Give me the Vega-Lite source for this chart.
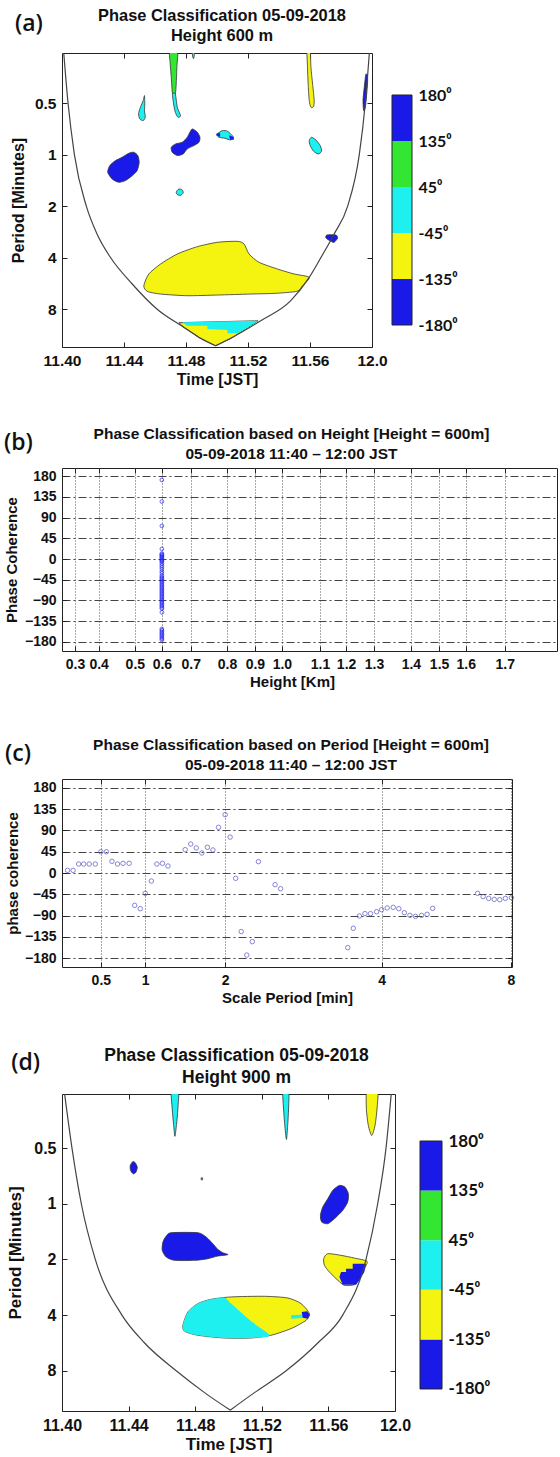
{
"$schema": "https://vega.github.io/schema/vega-lite/v6.json",
"background": "white",
"padding": {"left": 3, "top": 7, "right": 0, "bottom": 0},
"spacing": 38,
"config": {
  "font": "Liberation Sans",
  "view": {"stroke": "#222", "strokeWidth": 1},
  "axis": {"labelFont": "Liberation Sans", "labelFontWeight": "bold", "labelFontSize": 14, "labelColor": "#111", "titleFont": "Liberation Sans", "titleFontWeight": "bold", "titleFontSize": 15, "titleColor": "#111", "domain": false, "tickColor": "#222", "tickSize": -5, "labelPadding": 11, "grid": false, "labelFlush": false, "labelOverlap": false},
  "title": {"font": "Liberation Sans", "fontWeight": "bold", "fontSize": 15, "color": "#111"}
},
"datasets": {
  "blobsA_s": [
    {"id":"G1","k":0,"t":11.4694,"p":0.24,"c":"45 to 135"},{"id":"G1","k":1,"t":11.4746,"p":0.24,"c":"45 to 135"},{"id":"G1","k":2,"t":11.4741,"p":0.309,"c":"45 to 135"},{"id":"G1","k":3,"t":11.4737,"p":0.386,"c":"45 to 135"},{"id":"G1","k":4,"t":11.4731,"p":0.442,"c":"45 to 135"},{"id":"G1","k":5,"t":11.4713,"p":0.442,"c":"45 to 135"},{"id":"G1","k":6,"t":11.4705,"p":0.353,"c":"45 to 135"},{"id":"G1","k":7,"t":11.4698,"p":0.295,"c":"45 to 135"},
    {"id":"C1","k":0,"t":11.4713,"p":0.442,"c":"-45 to 45"},{"id":"C1","k":1,"t":11.4731,"p":0.442,"c":"-45 to 45"},{"id":"C1","k":2,"t":11.4744,"p":0.529,"c":"-45 to 45"},{"id":"C1","k":3,"t":11.4765,"p":0.592,"c":"-45 to 45"},{"id":"C1","k":4,"t":11.4748,"p":0.605,"c":"-45 to 45"},{"id":"C1","k":5,"t":11.4731,"p":0.566,"c":"-45 to 45"},{"id":"C1","k":6,"t":11.472,"p":0.506,"c":"-45 to 45"},
    {"id":"C2","k":0,"t":11.4838,"p":0.24,"c":"-45 to 45"},{"id":"C2","k":1,"t":11.4856,"p":0.24,"c":"-45 to 45"},{"id":"C2","k":2,"t":11.4851,"p":0.272,"c":"-45 to 45"},{"id":"C2","k":3,"t":11.4845,"p":0.272,"c":"-45 to 45"},
    {"id":"C3","k":0,"t":11.4532,"p":0.452,"c":"-45 to 45"},{"id":"C3","k":1,"t":11.4534,"p":0.506,"c":"-45 to 45"},{"id":"C3","k":2,"t":11.4532,"p":0.553,"c":"-45 to 45"},{"id":"C3","k":3,"t":11.4537,"p":0.605,"c":"-45 to 45"},{"id":"C3","k":4,"t":11.4524,"p":0.633,"c":"-45 to 45"},{"id":"C3","k":5,"t":11.4502,"p":0.619,"c":"-45 to 45"},{"id":"C3","k":6,"t":11.4494,"p":0.578,"c":"-45 to 45"},{"id":"C3","k":7,"t":11.4506,"p":0.529,"c":"-45 to 45"},{"id":"C3","k":8,"t":11.4524,"p":0.483,"c":"-45 to 45"},
    {"id":"Y1","k":0,"t":11.558,"p":0.24,"c":"-135 to -45"},{"id":"Y1","k":1,"t":11.5601,"p":0.24,"c":"-135 to -45"},{"id":"Y1","k":2,"t":11.5606,"p":0.309,"c":"-135 to -45"},{"id":"Y1","k":3,"t":11.5619,"p":0.404,"c":"-135 to -45"},{"id":"Y1","k":4,"t":11.5627,"p":0.483,"c":"-135 to -45"},{"id":"Y1","k":5,"t":11.5623,"p":0.524,"c":"-135 to -45"},{"id":"Y1","k":6,"t":11.5606,"p":0.529,"c":"-135 to -45"},{"id":"Y1","k":7,"t":11.5595,"p":0.483,"c":"-135 to -45"},{"id":"Y1","k":8,"t":11.5588,"p":0.386,"c":"-135 to -45"},{"id":"Y1","k":9,"t":11.5584,"p":0.309,"c":"-135 to -45"},
    {"id":"B1","k":0,"t":11.5961,"p":0.338,"c":"135 to 180"},{"id":"B1","k":1,"t":11.5972,"p":0.361,"c":"135 to 180"},{"id":"B1","k":2,"t":11.5966,"p":0.442,"c":"135 to 180"},{"id":"B1","k":3,"t":11.5957,"p":0.529,"c":"135 to 180"},{"id":"B1","k":4,"t":11.5946,"p":0.553,"c":"135 to 180"},{"id":"B1","k":5,"t":11.5942,"p":0.483,"c":"135 to 180"},{"id":"B1","k":6,"t":11.595,"p":0.404,"c":"135 to 180"},
    {"id":"B2","k":0,"t":11.4463,"p":0.969,"c":"135 to 180"},{"id":"B2","k":1,"t":11.4489,"p":1.013,"c":"135 to 180"},{"id":"B2","k":2,"t":11.4498,"p":1.109,"c":"135 to 180"},{"id":"B2","k":3,"t":11.4485,"p":1.24,"c":"135 to 180"},{"id":"B2","k":4,"t":11.4453,"p":1.327,"c":"135 to 180"},{"id":"B2","k":5,"t":11.4409,"p":1.419,"c":"135 to 180"},{"id":"B2","k":6,"t":11.4366,"p":1.451,"c":"135 to 180"},{"id":"B2","k":7,"t":11.4323,"p":1.387,"c":"135 to 180"},{"id":"B2","k":8,"t":11.4295,"p":1.268,"c":"135 to 180"},{"id":"B2","k":9,"t":11.4308,"p":1.16,"c":"135 to 180"},{"id":"B2","k":10,"t":11.4345,"p":1.084,"c":"135 to 180"},{"id":"B2","k":11,"t":11.4388,"p":1.036,"c":"135 to 180"},{"id":"B2","k":12,"t":11.4431,"p":0.982,"c":"135 to 180"},
    {"id":"B3","k":0,"t":11.4841,"p":0.708,"c":"135 to 180"},{"id":"B3","k":1,"t":11.4873,"p":0.74,"c":"135 to 180"},{"id":"B3","k":2,"t":11.489,"p":0.792,"c":"135 to 180"},{"id":"B3","k":3,"t":11.4884,"p":0.847,"c":"135 to 180"},{"id":"B3","k":4,"t":11.4851,"p":0.886,"c":"135 to 180"},{"id":"B3","k":5,"t":11.4808,"p":0.927,"c":"135 to 180"},{"id":"B3","k":6,"t":11.4782,"p":0.991,"c":"135 to 180"},{"id":"B3","k":7,"t":11.4744,"p":1.013,"c":"135 to 180"},{"id":"B3","k":8,"t":11.4711,"p":0.969,"c":"135 to 180"},{"id":"B3","k":9,"t":11.4705,"p":0.906,"c":"135 to 180"},{"id":"B3","k":10,"t":11.4733,"p":0.866,"c":"135 to 180"},{"id":"B3","k":11,"t":11.4776,"p":0.847,"c":"135 to 180"},{"id":"B3","k":12,"t":11.4808,"p":0.792,"c":"135 to 180"},{"id":"B3","k":13,"t":11.4825,"p":0.74,"c":"135 to 180"},
    {"id":"C4","k":0,"t":11.5034,"p":0.724,"c":"-45 to 45"},{"id":"C4","k":1,"t":11.5067,"p":0.73,"c":"-45 to 45"},{"id":"C4","k":2,"t":11.5088,"p":0.757,"c":"-45 to 45"},{"id":"C4","k":3,"t":11.5106,"p":0.792,"c":"-45 to 45"},{"id":"C4","k":4,"t":11.5088,"p":0.821,"c":"-45 to 45"},{"id":"C4","k":5,"t":11.505,"p":0.803,"c":"-45 to 45"},{"id":"C4","k":6,"t":11.5013,"p":0.792,"c":"-45 to 45"},{"id":"C4","k":7,"t":11.4998,"p":0.764,"c":"-45 to 45"},
    {"id":"C5","k":0,"t":11.561,"p":0.792,"c":"-45 to 45"},{"id":"C5","k":1,"t":11.5638,"p":0.821,"c":"-45 to 45"},{"id":"C5","k":2,"t":11.5666,"p":0.886,"c":"-45 to 45"},{"id":"C5","k":3,"t":11.5675,"p":0.956,"c":"-45 to 45"},{"id":"C5","k":4,"t":11.5653,"p":0.991,"c":"-45 to 45"},{"id":"C5","k":5,"t":11.5623,"p":0.956,"c":"-45 to 45"},{"id":"C5","k":6,"t":11.5601,"p":0.886,"c":"-45 to 45"},{"id":"C5","k":7,"t":11.5595,"p":0.828,"c":"-45 to 45"},
    {"id":"C6","k":0,"t":11.4754,"p":1.588,"c":"-45 to 45"},{"id":"C6","k":1,"t":11.4776,"p":1.609,"c":"-45 to 45"},{"id":"C6","k":2,"t":11.4782,"p":1.675,"c":"-45 to 45"},{"id":"C6","k":3,"t":11.4765,"p":1.729,"c":"-45 to 45"},{"id":"C6","k":4,"t":11.4744,"p":1.713,"c":"-45 to 45"},{"id":"C6","k":5,"t":11.4737,"p":1.653,"c":"-45 to 45"},
    {"id":"B4","k":0,"t":11.5709,"p":2.948,"c":"135 to 180"},{"id":"B4","k":1,"t":11.5767,"p":2.948,"c":"135 to 180"},{"id":"B4","k":2,"t":11.5778,"p":3.07,"c":"135 to 180"},{"id":"B4","k":3,"t":11.5756,"p":3.254,"c":"135 to 180"},{"id":"B4","k":4,"t":11.5735,"p":3.211,"c":"135 to 180"},{"id":"B4","k":5,"t":11.5703,"p":3.07,"c":"135 to 180"},
    {"id":"Y2","k":0,"t":11.4528,"p":5.832,"c":"-135 to -45"},{"id":"Y2","k":1,"t":11.456,"p":4.983,"c":"-135 to -45"},{"id":"Y2","k":2,"t":11.4636,"p":4.356,"c":"-135 to -45"},{"id":"Y2","k":3,"t":11.4744,"p":3.808,"c":"-135 to -45"},{"id":"Y2","k":4,"t":11.4873,"p":3.45,"c":"-135 to -45"},{"id":"Y2","k":5,"t":11.5002,"p":3.254,"c":"-135 to -45"},{"id":"Y2","k":6,"t":11.5131,"p":3.211,"c":"-135 to -45"},{"id":"Y2","k":7,"t":11.5175,"p":3.329,"c":"-135 to -45"},{"id":"Y2","k":8,"t":11.5207,"p":3.808,"c":"-135 to -45"},{"id":"Y2","k":9,"t":11.5272,"p":4.26,"c":"-135 to -45"},{"id":"Y2","k":10,"t":11.539,"p":4.66,"c":"-135 to -45"},{"id":"Y2","k":11,"t":11.5498,"p":4.983,"c":"-135 to -45"},{"id":"Y2","k":12,"t":11.5595,"p":5.212,"c":"-135 to -45"},{"id":"Y2","k":13,"t":11.5552,"p":5.832,"c":"-135 to -45"},{"id":"Y2","k":14,"t":11.5515,"p":6.293,"c":"-135 to -45"},{"id":"Y2","k":15,"t":11.5369,"p":6.466,"c":"-135 to -45"},{"id":"Y2","k":16,"t":11.5218,"p":6.524,"c":"-135 to -45"},{"id":"Y2","k":17,"t":11.5002,"p":6.612,"c":"-135 to -45"},{"id":"Y2","k":18,"t":11.4808,"p":6.672,"c":"-135 to -45"},{"id":"Y2","k":19,"t":11.4636,"p":6.524,"c":"-135 to -45"},{"id":"Y2","k":20,"t":11.455,"p":6.293,"c":"-135 to -45"}
  ],
  "blobsA_l": [
    {"id":"Y3","k":0,"t":11.4754,"p":9.59,"c":"-135 to -45"},{"id":"Y3","k":1,"t":11.5265,"p":9.34,"c":"-135 to -45"},{"id":"Y3","k":2,"t":11.5185,"p":10.45,"c":"-135 to -45"},{"id":"Y3","k":3,"t":11.5099,"p":11.69,"c":"-135 to -45"},{"id":"Y3","k":4,"t":11.4991,"p":13.08,"c":"-135 to -45"},{"id":"Y3","k":5,"t":11.4884,"p":11.69,"c":"-135 to -45"},{"id":"Y3","k":6,"t":11.4787,"p":10.22,"c":"-135 to -45"}
  ],
  "blobsA_o": [
    {"id":"C7","k":0,"t":11.4776,"p":9.55,"c":"-45 to 45"},{"id":"C7","k":1,"t":11.5265,"p":9.34,"c":"-45 to 45"},{"id":"C7","k":2,"t":11.5185,"p":10.45,"c":"-45 to 45"},{"id":"C7","k":3,"t":11.5131,"p":11.07,"c":"-45 to 45"},{"id":"C7","k":4,"t":11.5067,"p":11.07,"c":"-45 to 45"},{"id":"C7","k":5,"t":11.5067,"p":10.59,"c":"-45 to 45"},{"id":"C7","k":6,"t":11.4938,"p":10.45,"c":"-45 to 45"},{"id":"C7","k":7,"t":11.4938,"p":9.99,"c":"-45 to 45"},{"id":"C7","k":8,"t":11.4808,"p":9.99,"c":"-45 to 45"},
    {"id":"Q1","k":0,"t":11.5078,"p":0.77,"c":"135 to 180"},{"id":"Q1","k":1,"t":11.5106,"p":0.79,"c":"135 to 180"},{"id":"Q1","k":2,"t":11.511,"p":0.82,"c":"135 to 180"},{"id":"Q1","k":3,"t":11.5085,"p":0.82,"c":"135 to 180"},
    {"id":"Q2","k":0,"t":11.4998,"p":0.75,"c":"135 to 180"},{"id":"Q2","k":1,"t":11.502,"p":0.75,"c":"135 to 180"},{"id":"Q2","k":2,"t":11.502,"p":0.79,"c":"135 to 180"},{"id":"Q2","k":3,"t":11.4998,"p":0.77,"c":"135 to 180"}
  ],
  "coiA": [
    {"side":"L","t":11.4009,"p":0.24},{"side":"L","t":11.4039,"p":0.5},{"side":"L","t":11.408,"p":1},{"side":"L","t":11.4157,"p":2},{"side":"L","t":11.4226,"p":2.908},{"side":"L","t":11.4312,"p":3.98},{"side":"L","t":11.4453,"p":5.7},{"side":"L","t":11.4614,"p":8},{"side":"L","t":11.4787,"p":10.22},{"side":"L","t":11.4884,"p":11.69},{"side":"L","t":11.4991,"p":13.08},
    {"side":"R","t":11.4991,"p":13.08},{"side":"R","t":11.5099,"p":11.69},{"side":"R","t":11.5282,"p":9.34},{"side":"R","t":11.5476,"p":7.13},{"side":"R","t":11.5595,"p":5.21},{"side":"R","t":11.567,"p":4.0},{"side":"R","t":11.5756,"p":2.908},{"side":"R","t":11.5843,"p":2.0},{"side":"R","t":11.5918,"p":1.0},{"side":"R","t":11.5957,"p":0.5},{"side":"R","t":11.5985,"p":0.24}
  ],
  "blobsD_s": [
    {"id":"D1","k":0,"t":11.4656,"p":0.24,"c":"-45 to 45"},{"id":"D1","k":1,"t":11.47,"p":0.24,"c":"-45 to 45"},{"id":"D1","k":2,"t":11.4696,"p":0.307,"c":"-45 to 45"},{"id":"D1","k":3,"t":11.4688,"p":0.372,"c":"-45 to 45"},{"id":"D1","k":4,"t":11.4678,"p":0.432,"c":"-45 to 45"},{"id":"D1","k":5,"t":11.467,"p":0.372,"c":"-45 to 45"},{"id":"D1","k":6,"t":11.4662,"p":0.307,"c":"-45 to 45"},
    {"id":"D2","k":0,"t":11.5326,"p":0.24,"c":"-45 to 45"},{"id":"D2","k":1,"t":11.5362,"p":0.24,"c":"-45 to 45"},{"id":"D2","k":2,"t":11.536,"p":0.32,"c":"-45 to 45"},{"id":"D2","k":3,"t":11.5354,"p":0.394,"c":"-45 to 45"},{"id":"D2","k":4,"t":11.5348,"p":0.449,"c":"-45 to 45"},{"id":"D2","k":5,"t":11.534,"p":0.394,"c":"-45 to 45"},{"id":"D2","k":6,"t":11.5332,"p":0.32,"c":"-45 to 45"},
    {"id":"D3","k":0,"t":11.5832,"p":0.24,"c":"-135 to -45"},{"id":"D3","k":1,"t":11.5896,"p":0.24,"c":"-135 to -45"},{"id":"D3","k":2,"t":11.5892,"p":0.307,"c":"-135 to -45"},{"id":"D3","k":3,"t":11.588,"p":0.378,"c":"-135 to -45"},{"id":"D3","k":4,"t":11.586,"p":0.428,"c":"-135 to -45"},{"id":"D3","k":5,"t":11.584,"p":0.378,"c":"-135 to -45"},{"id":"D3","k":6,"t":11.5828,"p":0.307,"c":"-135 to -45"},
    {"id":"D4","k":0,"t":11.4426,"p":0.591,"c":"135 to 180"},{"id":"D4","k":1,"t":11.444,"p":0.601,"c":"135 to 180"},{"id":"D4","k":2,"t":11.4452,"p":0.634,"c":"135 to 180"},{"id":"D4","k":3,"t":11.4444,"p":0.675,"c":"135 to 180"},{"id":"D4","k":4,"t":11.4428,"p":0.689,"c":"135 to 180"},{"id":"D4","k":5,"t":11.4412,"p":0.661,"c":"135 to 180"},{"id":"D4","k":6,"t":11.441,"p":0.621,"c":"135 to 180"},
    {"id":"D5","k":0,"t":11.4836,"p":0.724,"c":"-45 to 45"},{"id":"D5","k":1,"t":11.4844,"p":0.724,"c":"-45 to 45"},{"id":"D5","k":2,"t":11.4844,"p":0.742,"c":"-45 to 45"},{"id":"D5","k":3,"t":11.4836,"p":0.742,"c":"-45 to 45"},
    {"id":"D6","k":0,"t":11.5666,"p":0.796,"c":"135 to 180"},{"id":"D6","k":1,"t":11.57,"p":0.813,"c":"135 to 180"},{"id":"D6","k":2,"t":11.572,"p":0.883,"c":"135 to 180"},{"id":"D6","k":3,"t":11.5716,"p":0.979,"c":"135 to 180"},{"id":"D6","k":4,"t":11.5686,"p":1.086,"c":"135 to 180"},{"id":"D6","k":5,"t":11.5636,"p":1.205,"c":"135 to 180"},{"id":"D6","k":6,"t":11.5596,"p":1.282,"c":"135 to 180"},{"id":"D6","k":7,"t":11.556,"p":1.256,"c":"135 to 180"},{"id":"D6","k":8,"t":11.5552,"p":1.156,"c":"135 to 180"},{"id":"D6","k":9,"t":11.5566,"p":1.042,"c":"135 to 180"},{"id":"D6","k":10,"t":11.5596,"p":0.94,"c":"135 to 180"},{"id":"D6","k":11,"t":11.5626,"p":0.847,"c":"135 to 180"},
    {"id":"D7","k":0,"t":11.4656,"p":1.434,"c":"135 to 180"},{"id":"D7","k":1,"t":11.4816,"p":1.434,"c":"135 to 180"},{"id":"D7","k":2,"t":11.4866,"p":1.514,"c":"135 to 180"},{"id":"D7","k":3,"t":11.4906,"p":1.645,"c":"135 to 180"},{"id":"D7","k":4,"t":11.4936,"p":1.765,"c":"135 to 180"},{"id":"D7","k":5,"t":11.4966,"p":1.839,"c":"135 to 180"},{"id":"D7","k":6,"t":11.4996,"p":1.885,"c":"135 to 180"},{"id":"D7","k":7,"t":11.4936,"p":1.917,"c":"135 to 180"},{"id":"D7","k":8,"t":11.4876,"p":1.982,"c":"135 to 180"},{"id":"D7","k":9,"t":11.4796,"p":2.023,"c":"135 to 180"},{"id":"D7","k":10,"t":11.4676,"p":2.023,"c":"135 to 180"},{"id":"D7","k":11,"t":11.4626,"p":1.941,"c":"135 to 180"},{"id":"D7","k":12,"t":11.4602,"p":1.786,"c":"135 to 180"},{"id":"D7","k":13,"t":11.4606,"p":1.611,"c":"135 to 180"},{"id":"D7","k":14,"t":11.4626,"p":1.495,"c":"135 to 180"},
    {"id":"D8","k":0,"t":11.5596,"p":1.862,"c":"-135 to -45"},{"id":"D8","k":1,"t":11.5676,"p":1.901,"c":"-135 to -45"},{"id":"D8","k":2,"t":11.5756,"p":1.966,"c":"-135 to -45"},{"id":"D8","k":3,"t":11.5832,"p":2.048,"c":"-135 to -45"},{"id":"D8","k":4,"t":11.5816,"p":2.244,"c":"-135 to -45"},{"id":"D8","k":5,"t":11.5786,"p":2.541,"c":"-135 to -45"},{"id":"D8","k":6,"t":11.5756,"p":2.739,"c":"-135 to -45"},{"id":"D8","k":7,"t":11.5696,"p":2.761,"c":"-135 to -45"},{"id":"D8","k":8,"t":11.5656,"p":2.59,"c":"-135 to -45"},{"id":"D8","k":9,"t":11.5606,"p":2.339,"c":"-135 to -45"},{"id":"D8","k":10,"t":11.5576,"p":2.153,"c":"-135 to -45"},{"id":"D8","k":11,"t":11.5572,"p":1.982,"c":"-135 to -45"},
    {"id":"D9","k":0,"t":11.4726,"p":4.539,"c":"-135 to -45"},{"id":"D9","k":1,"t":11.4756,"p":3.846,"c":"-135 to -45"},{"id":"D9","k":2,"t":11.4816,"p":3.467,"c":"-135 to -45"},{"id":"D9","k":3,"t":11.4896,"p":3.285,"c":"-135 to -45"},{"id":"D9","k":4,"t":11.5016,"p":3.19,"c":"-135 to -45"},{"id":"D9","k":5,"t":11.5216,"p":3.165,"c":"-135 to -45"},{"id":"D9","k":6,"t":11.5356,"p":3.232,"c":"-135 to -45"},{"id":"D9","k":7,"t":11.5436,"p":3.467,"c":"-135 to -45"},{"id":"D9","k":8,"t":11.5486,"p":3.926,"c":"-135 to -45"},{"id":"D9","k":9,"t":11.5466,"p":4.27,"c":"-135 to -45"},{"id":"D9","k":10,"t":11.5376,"p":4.732,"c":"-135 to -45"},{"id":"D9","k":11,"t":11.5256,"p":5.141,"c":"-135 to -45"},{"id":"D9","k":12,"t":11.5136,"p":5.32,"c":"-135 to -45"},{"id":"D9","k":13,"t":11.4976,"p":5.32,"c":"-135 to -45"},{"id":"D9","k":14,"t":11.4816,"p":5.141,"c":"-135 to -45"},{"id":"D9","k":15,"t":11.4736,"p":4.89,"c":"-135 to -45"}
  ],
  "blobsD_so": [
    {"id":"D9c","k":0,"t":11.4726,"p":4.539,"c":"-45 to 45"},{"id":"D9c","k":1,"t":11.4756,"p":3.846,"c":"-45 to 45"},{"id":"D9c","k":2,"t":11.4816,"p":3.467,"c":"-45 to 45"},{"id":"D9c","k":3,"t":11.4896,"p":3.285,"c":"-45 to 45"},{"id":"D9c","k":4,"t":11.4976,"p":3.218,"c":"-45 to 45"},{"id":"D9c","k":5,"t":11.5016,"p":3.467,"c":"-45 to 45"},{"id":"D9c","k":6,"t":11.5076,"p":3.877,"c":"-45 to 45"},{"id":"D9c","k":7,"t":11.5136,"p":4.319,"c":"-45 to 45"},{"id":"D9c","k":8,"t":11.5196,"p":4.732,"c":"-45 to 45"},{"id":"D9c","k":9,"t":11.5246,"p":5.183,"c":"-45 to 45"},{"id":"D9c","k":10,"t":11.5136,"p":5.32,"c":"-45 to 45"},{"id":"D9c","k":11,"t":11.4976,"p":5.32,"c":"-45 to 45"},{"id":"D9c","k":12,"t":11.4816,"p":5.141,"c":"-45 to 45"},{"id":"D9c","k":13,"t":11.4736,"p":4.89,"c":"-45 to 45"}
  ],
  "blobsD_o": [
    {"id":"D8b","k":0,"t":11.5746,"p":2.108,"c":"135 to 180"},{"id":"D8b","k":1,"t":11.5826,"p":2.108,"c":"135 to 180"},{"id":"D8b","k":2,"t":11.5816,"p":2.339,"c":"135 to 180"},{"id":"D8b","k":3,"t":11.5786,"p":2.59,"c":"135 to 180"},{"id":"D8b","k":4,"t":11.5766,"p":2.739,"c":"135 to 180"},{"id":"D8b","k":5,"t":11.5686,"p":2.739,"c":"135 to 180"},{"id":"D8b","k":6,"t":11.5666,"p":2.489,"c":"135 to 180"},{"id":"D8b","k":7,"t":11.5676,"p":2.339,"c":"135 to 180"},{"id":"D8b","k":8,"t":11.5706,"p":2.339,"c":"135 to 180"},{"id":"D8b","k":9,"t":11.5706,"p":2.244,"c":"135 to 180"},{"id":"D8b","k":10,"t":11.5746,"p":2.244,"c":"135 to 180"},
    {"id":"D9s","k":0,"t":11.5376,"p":4.008,"c":"-45 to 45"},{"id":"D9s","k":1,"t":11.5456,"p":3.97,"c":"-45 to 45"},{"id":"D9s","k":2,"t":11.5456,"p":4.14,"c":"-45 to 45"},{"id":"D9s","k":3,"t":11.5376,"p":4.18,"c":"-45 to 45"},
    {"id":"D9t","k":0,"t":11.544,"p":3.846,"c":"135 to 180"},{"id":"D9t","k":1,"t":11.5472,"p":3.81,"c":"135 to 180"},{"id":"D9t","k":2,"t":11.5488,"p":3.97,"c":"135 to 180"},{"id":"D9t","k":3,"t":11.5476,"p":4.18,"c":"135 to 180"},{"id":"D9t","k":4,"t":11.5446,"p":4.14,"c":"135 to 180"}
  ],
  "coiD": [
    {"side":"L","t":11.4012,"p":0.24},{"side":"L","t":11.406,"p":0.5},{"side":"L","t":11.4116,"p":1},{"side":"L","t":11.42,"p":2},{"side":"L","t":11.436,"p":4},{"side":"L","t":11.4496,"p":5.66},{"side":"L","t":11.4686,"p":8},{"side":"L","t":11.4856,"p":10.5},{"side":"L","t":11.501,"p":13.06},
    {"side":"R","t":11.501,"p":13.06},{"side":"R","t":11.5156,"p":10.5},{"side":"R","t":11.5346,"p":8},{"side":"R","t":11.5536,"p":5.66},{"side":"R","t":11.5686,"p":4},{"side":"R","t":11.5826,"p":2},{"side":"R","t":11.5896,"p":1},{"side":"R","t":11.5946,"p":0.5},{"side":"R","t":11.598,"p":0.24}
  ],
  "cbar": [
    {"lo":0,"hi":1,"c":"-180 to -135"},{"lo":1,"hi":2,"c":"-135 to -45"},{"lo":2,"hi":3,"c":"-45 to 45"},{"lo":3,"hi":4,"c":"45 to 135"},{"lo":4,"hi":5,"c":"135 to 180"}
  ],
  "heightPts": [
    {"height_km":0.583,"phase":172},{"height_km":0.583,"phase":125},{"height_km":0.583,"phase":72},{"height_km":0.583,"phase":22},
    {"height_km":0.583,"phase":12},{"height_km":0.583,"phase":10},{"height_km":0.583,"phase":8},{"height_km":0.583,"phase":6},{"height_km":0.583,"phase":4},{"height_km":0.583,"phase":2},{"height_km":0.583,"phase":0},{"height_km":0.583,"phase":-2},{"height_km":0.583,"phase":-4},{"height_km":0.583,"phase":-6},
    {"height_km":0.583,"phase":-10},{"height_km":0.583,"phase":-14},{"height_km":0.583,"phase":-18},{"height_km":0.583,"phase":-22},{"height_km":0.583,"phase":-27},{"height_km":0.583,"phase":-31},
    {"height_km":0.583,"phase":-36},{"height_km":0.583,"phase":-39},{"height_km":0.583,"phase":-42},{"height_km":0.583,"phase":-45},{"height_km":0.583,"phase":-48},{"height_km":0.583,"phase":-51},{"height_km":0.583,"phase":-54},{"height_km":0.583,"phase":-57},{"height_km":0.583,"phase":-60},{"height_km":0.583,"phase":-63},{"height_km":0.583,"phase":-66},{"height_km":0.583,"phase":-69},{"height_km":0.583,"phase":-72},{"height_km":0.583,"phase":-75},{"height_km":0.583,"phase":-78},{"height_km":0.583,"phase":-81},{"height_km":0.583,"phase":-84},{"height_km":0.583,"phase":-87},{"height_km":0.583,"phase":-90},{"height_km":0.583,"phase":-93},{"height_km":0.583,"phase":-96},{"height_km":0.583,"phase":-99},{"height_km":0.583,"phase":-102},{"height_km":0.583,"phase":-105},{"height_km":0.583,"phase":-108},
    {"height_km":0.583,"phase":-116},
    {"height_km":0.583,"phase":-152},{"height_km":0.583,"phase":-155},{"height_km":0.583,"phase":-158},{"height_km":0.583,"phase":-161},{"height_km":0.583,"phase":-164},{"height_km":0.583,"phase":-167},{"height_km":0.583,"phase":-170},{"height_km":0.583,"phase":-173},{"height_km":0.583,"phase":-176}
  ],
  "periodPts": [
    {"scale_index":1.0,"phase":5.6},{"scale_index":2.0,"phase":5.6},{"scale_index":3.0,"phase":19},{"scale_index":3.9,"phase":19},{"scale_index":4.9,"phase":19},{"scale_index":6.0,"phase":19},{"scale_index":7.0,"phase":45},{"scale_index":8.0,"phase":45},{"scale_index":9.0,"phase":24.7},{"scale_index":10.0,"phase":19},{"scale_index":11.0,"phase":20.5},{"scale_index":12.1,"phase":20.5},{"scale_index":13.1,"phase":-68.5},{"scale_index":14.1,"phase":-75.5},{"scale_index":15.0,"phase":-43},{"scale_index":16.1,"phase":-17},{"scale_index":17.1,"phase":19},{"scale_index":18.1,"phase":20.5},{"scale_index":19.1,"phase":14.8},
    {"scale_index":22.2,"phase":49.4},{"scale_index":23.2,"phase":61.4},{"scale_index":24.2,"phase":53},{"scale_index":25.2,"phase":42.4},{"scale_index":26.2,"phase":54.4},{"scale_index":27.2,"phase":48.7},{"scale_index":28.2,"phase":96.7},{"scale_index":29.4,"phase":123.5},{"scale_index":30.3,"phase":76},{"scale_index":31.3,"phase":-11.3},{"scale_index":32.3,"phase":-124},{"scale_index":33.3,"phase":-173.7},{"scale_index":34.3,"phase":-145.4},{"scale_index":35.4,"phase":24},{"scale_index":38.4,"phase":-24.7},{"scale_index":39.4,"phase":-33.2},
    {"scale_index":51.5,"phase":-158},{"scale_index":52.5,"phase":-117},{"scale_index":53.6,"phase":-91},{"scale_index":54.6,"phase":-86},{"scale_index":55.6,"phase":-86},{"scale_index":56.7,"phase":-82},{"scale_index":57.6,"phase":-77.6},{"scale_index":58.6,"phase":-74},{"scale_index":59.7,"phase":-72.7},{"scale_index":60.7,"phase":-75.5},{"scale_index":61.7,"phase":-84},{"scale_index":62.7,"phase":-89.7},{"scale_index":63.7,"phase":-91.8},{"scale_index":64.8,"phase":-89.7},{"scale_index":65.8,"phase":-87.5},{"scale_index":66.8,"phase":-74.8},
    {"scale_index":74.9,"phase":-43},{"scale_index":75.9,"phase":-50},{"scale_index":76.9,"phase":-53.7},{"scale_index":77.9,"phase":-55.8},{"scale_index":78.9,"phase":-56.5},{"scale_index":79.9,"phase":-53.7},{"scale_index":81.0,"phase":-52.2}
  ]
},
"vconcat": [
  {
    "title": {"text": "(a)", "anchor": "start", "font": "Open Sans", "fontSize": 23, "fontWeight": 600, "dx": 5, "dy": 28, "offset": 0},
    "bounds": "flush",
    "spacing": 20,
    "hconcat": [
      {
        "width": 310, "height": 294,
        "title": {"text": ["Phase Classification 05-09-2018", "Height 600 m"], "frame": "group", "anchor": "middle", "dx": 5, "fontSize": 16.4, "lineHeight": 20, "offset": 8},
        "encoding": {
          "x": {"field": "t", "type": "quantitative", "scale": {"domain": [11.4, 11.6], "nice": false, "zero": false}, "axis": {"values": [11.4, 11.44, 11.48, 11.52, 11.56, 11.6], "labelExpr": "datum.value > 11.59 ? '12.0' : format(datum.value, '.2f')", "title": "Time [JST]", "titlePadding": 3, "labelFontSize": 15.5, "titleFontSize": 16}},
          "y": {"field": "p", "type": "quantitative", "scale": {"type": "log", "base": 2, "domain": [0.255, 13.3], "reverse": true, "nice": false, "zero": false}, "axis": {"values": [0.5, 1, 2, 4, 8], "labelExpr": "datum.value < 0.9 ? '0.5' : format(datum.value, 'd')", "title": "Period [Minutes]", "titlePadding": 8, "labelFontSize": 15.5, "titleFontSize": 16}}
        },
        "resolve": {"axis": {"x": "independent", "y": "independent"}},
        "layer": [
          {"data": {"name": "blobsA_s"}, "mark": {"type": "line", "interpolate": "cardinal-closed", "tension": 0.3, "stroke": "#333", "strokeWidth": 0.8, "clip": true},
           "encoding": {"order": {"field": "k", "type": "quantitative"}, "detail": {"field": "id"}, "fill": {"field": "c", "type": "nominal", "scale": {"domain": ["135 to 180", "45 to 135", "-45 to 45", "-135 to -45", "-180 to -135"], "range": ["#1a1ae8", "#32e632", "#1ef0f0", "#f4f410", "#1a1ae8"]}, "legend": null}}},
          {"data": {"name": "blobsA_l"}, "mark": {"type": "line", "interpolate": "linear-closed", "stroke": "#333", "strokeWidth": 0.8, "clip": true},
           "encoding": {"x": {"field": "t", "type": "quantitative", "axis": null}, "y": {"field": "p", "type": "quantitative", "axis": null}, "order": {"field": "k", "type": "quantitative"}, "detail": {"field": "id"}, "fill": {"field": "c", "type": "nominal", "legend": null}}},
          {"data": {"name": "blobsA_o"}, "mark": {"type": "line", "interpolate": "linear-closed", "strokeWidth": 0, "strokeOpacity": 0, "clip": true},
           "encoding": {"x": {"field": "t", "type": "quantitative", "axis": null}, "y": {"field": "p", "type": "quantitative", "axis": null}, "order": {"field": "k", "type": "quantitative"}, "detail": {"field": "id"}, "fill": {"field": "c", "type": "nominal", "legend": null}}},
          {"data": {"name": "coiA"}, "mark": {"type": "line", "interpolate": "monotone", "stroke": "#444", "strokeWidth": 1.2, "clip": true},
           "encoding": {"x": {"field": "t", "type": "quantitative", "axis": {"orient": "top", "labels": false, "title": null, "values": [11.44, 11.48, 11.52, 11.56]}}, "y": {"field": "p", "type": "quantitative", "axis": {"orient": "right", "labels": false, "title": null, "values": [0.5, 1, 2, 4, 8]}}, "order": {"field": "t", "type": "quantitative"}, "detail": {"field": "side"}}}
        ]
      },
      {
        "width": 20, "height": 294,
        "view": {"stroke": null},
        "data": {"name": "cbar"},
        "encoding": {
          "y": {"field": "lo", "type": "quantitative", "scale": {"domain": [-0.478, 5.913], "nice": false, "zero": false}, "axis": {"orient": "right", "values": [0, 1, 2, 3, 4, 5], "labelExpr": "['-180⁰','-135⁰','-45⁰','45⁰','135⁰','180⁰'][datum.value]", "title": null, "ticks": false, "labelPadding": 6, "labelFont": "Lato", "labelFontSize": 16, "labelFontWeight": "bold"}},
          "y2": {"field": "hi"}
        },
        "layer": [
          {"mark": {"type": "rect"}, "encoding": {"fill": {"field": "c", "type": "nominal", "scale": {"domain": ["135 to 180", "45 to 135", "-45 to 45", "-135 to -45", "-180 to -135"], "range": ["#1a1ae8", "#32e632", "#1ef0f0", "#f4f410", "#1a1ae8"]}, "legend": null}}},
          {"data": {"values": [{"lo": 0, "hi": 5}]}, "mark": {"type": "rect", "fill": null, "stroke": "#222", "strokeWidth": 1}}
        ]
      }
    ]
  },
  {
    "spacing": 47,
    "vconcat": [
      {
        "title": {"text": "(b)", "anchor": "start", "font": "Open Sans", "fontSize": 23, "fontWeight": 600, "dx": 0, "dy": 28, "offset": 0},
        "vconcat": [
          {
            "width": 495, "height": 183,
            "title": {"text": ["Phase Classification based on Height [Height = 600m]", "05-09-2018  11:40 – 12:00 JST"], "frame": "group", "anchor": "middle", "dx": -18, "fontSize": 15.5, "lineHeight": 20, "offset": 5},
            "data": {"name": "heightPts"},
            "resolve": {"axis": {"x": "independent", "y": "independent"}},
            "layer": [
              {
                "mark": {"type": "point", "shape": "circle", "filled": false, "size": 14, "strokeWidth": 1, "color": "#2424ff"},
                "encoding": {
                  "x": {"field": "height_km", "type": "quantitative", "scale": {"domain": [0.2577, 1.87], "nice": false, "zero": false}, "axis": {"values": [0.3, 0.377, 0.495, 0.583, 0.677, 0.795, 0.886, 0.974, 1.098, 1.183, 1.274, 1.394, 1.486, 1.573, 1.7], "labelExpr": "format(datum.value, '.1f')", "title": "Height [Km]", "titlePadding": 3, "titleX": 230, "grid": true, "gridDash": [1, 2], "gridColor": "#555", "gridWidth": 1}},
                  "y": {"field": "phase", "type": "quantitative", "scale": {"domain": [-200, 198], "nice": false, "zero": false}, "axis": {"values": [-180, -135, -90, -45, 0, 45, 90, 135, 180], "title": "Phase Coherence", "titlePadding": 5, "grid": true, "gridDash": [8, 3, 2, 3], "gridColor": "#444", "gridWidth": 1.2}}
                }
              },
              {
                "mark": {"type": "point", "opacity": 0},
                "encoding": {
                  "x": {"field": "height_km", "type": "quantitative", "axis": {"orient": "top", "labels": false, "title": null, "grid": false, "values": [0.3, 0.377, 0.495, 0.583, 0.677, 0.795, 0.886, 0.974, 1.098, 1.183, 1.274, 1.394, 1.486, 1.573, 1.7]}},
                  "y": {"field": "phase", "type": "quantitative", "axis": null}
                }
              }
            ]
          }
        ]
      },
      {
        "spacing": 40,
        "vconcat": [
          {
            "title": {"text": "(c)", "anchor": "start", "font": "Open Sans", "fontSize": 23, "fontWeight": 600, "dx": 0, "dy": 28, "offset": 0},
            "vconcat": [
              {
                "width": 450, "height": 188,
                "title": {"text": ["Phase Classification based on Period [Height = 600m]", "05-09-2018  11:40 – 12:00 JST"], "frame": "group", "anchor": "middle", "dx": 4, "fontSize": 15.5, "lineHeight": 20, "offset": 5},
                "data": {"name": "periodPts"},
                "resolve": {"axis": {"x": "independent", "y": "independent"}},
                "layer": [
                  {
                    "mark": {"type": "point", "shape": "circle", "filled": false, "size": 20, "strokeWidth": 1, "color": "#5252c4"},
                    "encoding": {
                      "x": {"field": "scale_index", "type": "quantitative", "scale": {"domain": [0, 81.1], "nice": false, "zero": false}, "axis": {"values": [7.0, 15.0, 29.4, 57.6, 80.9], "labelExpr": "datum.value < 10 ? '0.5' : datum.value < 20 ? '1' : datum.value < 40 ? '2' : datum.value < 70 ? '4' : '8'", "title": "Scale Period [min]", "titlePadding": 3, "grid": true, "gridDash": [1, 2], "gridColor": "#555", "gridWidth": 1}},
                      "y": {"field": "phase", "type": "quantitative", "scale": {"domain": [-199, 199], "nice": false, "zero": false}, "axis": {"values": [-180, -135, -90, -45, 0, 45, 90, 135, 180], "title": "phase coherence", "titlePadding": 4, "grid": true, "gridDash": [8, 3, 2, 3], "gridColor": "#444", "gridWidth": 1.2}}
                    }
                  },
                  {
                    "mark": {"type": "point", "opacity": 0},
                    "encoding": {
                      "x": {"field": "scale_index", "type": "quantitative", "axis": {"orient": "top", "labels": false, "title": null, "grid": false, "values": [7.0, 15.0, 29.4, 57.6]}},
                      "y": {"field": "phase", "type": "quantitative", "axis": {"orient": "right", "labels": false, "title": null, "grid": false, "values": [-180, -135, -90, -45, 0, 45, 90, 135, 180]}}
                    }
                  }
                ]
              }
            ]
          },
          {
            "title": {"text": "(d)", "anchor": "start", "font": "Open Sans", "fontSize": 23, "fontWeight": 600, "dx": 5, "dy": 28, "offset": 0},
            "bounds": "flush",
            "spacing": 25,
            "hconcat": [
              {
                "width": 333, "height": 317,
                "title": {"text": ["Phase Classification 05-09-2018", "Height 900 m"], "frame": "group", "anchor": "middle", "dx": 8, "fontSize": 17.5, "lineHeight": 22, "offset": 7},
                "encoding": {
                  "x": {"field": "t", "type": "quantitative", "scale": {"domain": [11.4, 11.6], "nice": false, "zero": false}, "axis": {"values": [11.4, 11.44, 11.48, 11.52, 11.56, 11.6], "labelExpr": "datum.value > 11.59 ? '12.0' : format(datum.value, '.2f')", "title": "Time [JST]", "titlePadding": 3, "labelFontSize": 16, "titleFontSize": 17}},
                  "y": {"field": "p", "type": "quantitative", "scale": {"type": "log", "base": 2, "domain": [0.255, 13.2], "reverse": true, "nice": false, "zero": false}, "axis": {"values": [0.5, 1, 2, 4, 8], "labelExpr": "datum.value < 0.9 ? '0.5' : format(datum.value, 'd')", "title": "Period [Minutes]", "titlePadding": 9, "labelFontSize": 16, "titleFontSize": 17}}
                },
                "resolve": {"axis": {"x": "independent", "y": "independent"}},
                "layer": [
                  {"data": {"name": "blobsD_s"}, "mark": {"type": "line", "interpolate": "cardinal-closed", "tension": 0.3, "stroke": "#333", "strokeWidth": 0.8, "clip": true},
                   "encoding": {"order": {"field": "k", "type": "quantitative"}, "detail": {"field": "id"}, "fill": {"field": "c", "type": "nominal", "scale": {"domain": ["135 to 180", "45 to 135", "-45 to 45", "-135 to -45", "-180 to -135"], "range": ["#1a1ae8", "#32e632", "#1ef0f0", "#f4f410", "#1a1ae8"]}, "legend": null}}},
                  {"data": {"name": "blobsD_so"}, "mark": {"type": "line", "interpolate": "cardinal-closed", "tension": 0.3, "strokeWidth": 0, "strokeOpacity": 0, "clip": true},
                   "encoding": {"x": {"field": "t", "type": "quantitative", "axis": null}, "y": {"field": "p", "type": "quantitative", "axis": null}, "order": {"field": "k", "type": "quantitative"}, "detail": {"field": "id"}, "fill": {"field": "c", "type": "nominal", "legend": null}}},
                  {"data": {"name": "blobsD_o"}, "mark": {"type": "line", "interpolate": "linear-closed", "strokeWidth": 0, "strokeOpacity": 0, "clip": true},
                   "encoding": {"x": {"field": "t", "type": "quantitative", "axis": null}, "y": {"field": "p", "type": "quantitative", "axis": null}, "order": {"field": "k", "type": "quantitative"}, "detail": {"field": "id"}, "fill": {"field": "c", "type": "nominal", "legend": null}}},
                  {"data": {"name": "coiD"}, "mark": {"type": "line", "interpolate": "monotone", "stroke": "#444", "strokeWidth": 1.2, "clip": true},
                   "encoding": {"x": {"field": "t", "type": "quantitative", "axis": {"orient": "top", "labels": false, "title": null, "values": [11.44, 11.48, 11.52, 11.56]}}, "y": {"field": "p", "type": "quantitative", "axis": {"orient": "right", "labels": false, "title": null, "values": [0.5, 1, 2, 4, 8]}}, "order": {"field": "t", "type": "quantitative"}, "detail": {"field": "side"}}}
                ]
              },
              {
                "width": 22, "height": 317,
                "view": {"stroke": null},
                "data": {"name": "cbar"},
                "encoding": {
                  "y": {"field": "lo", "type": "quantitative", "scale": {"domain": [-0.444, 5.948], "nice": false, "zero": false}, "axis": {"orient": "right", "values": [0, 1, 2, 3, 4, 5], "labelExpr": "['-180⁰','-135⁰','-45⁰','45⁰','135⁰','180⁰'][datum.value]", "title": null, "ticks": false, "labelPadding": 6, "labelFont": "Lato", "labelFontSize": 17, "labelFontWeight": "bold"}},
                  "y2": {"field": "hi"}
                },
                "layer": [
                  {"mark": {"type": "rect"}, "encoding": {"fill": {"field": "c", "type": "nominal", "scale": {"domain": ["135 to 180", "45 to 135", "-45 to 45", "-135 to -45", "-180 to -135"], "range": ["#1a1ae8", "#32e632", "#1ef0f0", "#f4f410", "#1a1ae8"]}, "legend": null}}},
                  {"data": {"values": [{"lo": 0, "hi": 5}]}, "mark": {"type": "rect", "fill": null, "stroke": "#222", "strokeWidth": 1}}
                ]
              }
            ]
          }
        ]
      }
    ]
  }
]
}
